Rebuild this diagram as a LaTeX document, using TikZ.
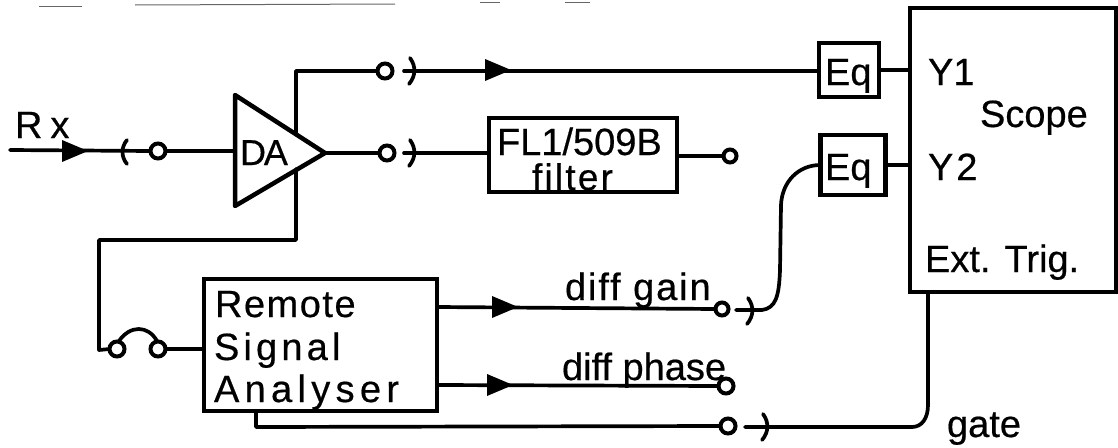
\documentclass[tikz,border=0pt]{standalone}
\usepackage{fontspec}
\setmainfont[FakeBold=0.5]{Liberation Sans}
\newcommand{\sz}[1]{\fontsize{#1}{#1}\selectfont}
\newcommand{\ls}[1]{\addfontfeature{LetterSpace=#1}}
\tikzset{
  wire/.style={line width=3.7pt,line cap=round,line join=round,black},
  boxline/.style={draw,line width=4.5pt,fill=white,inner sep=0pt,outer sep=0pt},
  jack/.style={circle,draw,line width=4pt,fill=white,inner sep=0pt,outer sep=0pt,minimum size=15pt},
  lbl/.style={anchor=base west,inner sep=0pt,outer sep=0pt,font=\sz{38}},
  plugr/.pic={\draw[line width=3.7pt,line cap=round] (-2,-13) .. controls (4,-5) and (4,5) .. (-3,13);},
  plugl/.pic={\draw[line width=3.7pt,line cap=round] (2,-12) .. controls (-4,-5) and (-4,5) .. (2,12);},
  flow/.pic={\fill (-10,-11) -- (16,0) -- (-10,11) -- cycle;},
  scan/.style={line width=1pt,black!60}
}
\begin{document}
\begin{tikzpicture}[x=1pt,y=-1pt]
\useasboundingbox (0,0) rectangle (1118,447);
% scan residue along the top edge
\draw[scan] (39,6) -- (82,6);
\draw[scan] (135,5) -- (395,4);
\draw[scan] (480,2) -- (500,2);
\draw[scan] (565,2) -- (590,2);
% boxes
\node[boxline,minimum width=188pt,minimum height=74pt] (filt) at (583,155) {};
\node[boxline,minimum width=60pt,minimum height=54pt] (eqa) at (849,70) {};
\node[boxline,minimum width=65pt,minimum height=60pt] (eqb) at (853,165) {};
\node[boxline,minimum width=206pt,minimum height=284pt] (scope) at (1013,150) {};
\node[boxline,minimum width=233pt,minimum height=132pt] (rsa) at (320.5,345) {};
% amplifier
\coordinate (datl) at (235,95);
\coordinate (datip) at (325,153);
\coordinate (dabl) at (235,206);
\coordinate (dain) at (235,151);
\coordinate (daup) at (296,132);
\coordinate (dadn) at (296,169);
\draw[line width=4.5pt,line join=round,line cap=round] (datl) -- (datip) -- (dabl) -- cycle;
% jacks
\node[jack] (rxj) at (158,151) {};
\node[jack] (oa) at (385,71) {};
\node[jack] (ob) at (387,153) {};
\node[jack,minimum size=13pt] (fo) at (730,156) {};
\node[jack] (la) at (117,349) {};
\node[jack] (lb) at (158,349) {};
\node[jack,minimum size=13pt] (dg) at (722,309) {};
\node[jack] (dp) at (726,386) {};
\node[jack] (gt) at (728,426) {};
% free ends and tails
\coordinate (rxs) at (10,150);
\coordinate (ta) at (404,71);
\coordinate (tb) at (404,153);
\coordinate (tg) at (736,310);
\coordinate (th) at (745,427);
% connectors
\draw[wire] (rxs) -- (rxj.west);
\draw[wire] (rxj.east) -- (dain);
\draw[wire] (daup) -- (296,71) -- (oa.west);
\draw[wire] (ta) -- (ta -| eqa.west);
\draw[wire] (datip) -- (ob.west);
\draw[wire] (tb) -- (tb -| filt.west);
\draw[wire] (fo.west -| filt.east) -- (fo.west);
\draw[wire] (eqa.east) -- (eqa.east -| scope.west);
\draw[wire] (eqb.east) -- (eqb.east -| scope.west);
\draw[wire] (dadn) -- (296,240) -- (99,240) -- (99,350) -- (la.west);
\draw[wire] (119,341) .. controls (130,325) and (148,325) .. (157,341);
\draw[wire] (lb.east) -- (lb.east -| rsa.west);
\draw[wire] (rsa.east |- 0,307) -- (dg.west);
\draw[wire] (rsa.east |- 0,385) -- (dp.west);
\draw[wire] (256,0 |- rsa.south) -- (256,427) -- (gt.west);
\draw[wire] (tg) -- (762,310) .. controls (776,308) and (779,296) .. (780,270) -- (781,205) .. controls (782,182) and (798,165) .. (eqb.west);
\draw[wire] (th) -- (912,427) .. controls (922,427) and (928,418) .. (928,405) -- (928,292);
% arrowheads and plug marks
\pic at (72,151) {flow};
\pic at (495,70) {flow};
\pic at (502,307) {flow};
\pic at (497,385) {flow};
\pic at (125,152) {plugl};
\pic at (412,71) {plugr};
\pic at (412,153) {plugr};
\pic at (750,311) {plugr};
\pic at (765,427) {plugr};
% labels
\node[lbl] (trx) at (15,138) {R\hspace{8pt}x};
\node[lbl,font=\sz{36}] (tda) at (240,165) {\ls{-6}DA};
\node[lbl] (tfl) at (497,155) {FL1/509B};
\node[lbl,font=\sz{37}] (tfi) at (532,190) {\ls{6}filter};
\node[lbl] (te1) at (825,85) {Eq};
\node[lbl] (te2) at (825,180) {Eq};
\node[lbl] (ty1) at (928,85) {Y1};
\node[lbl] (ty2) at (928,180) {Y\hspace{3pt}2};
\node[lbl] (tsc) at (980,127) {Scope};
\node[lbl] (tex) at (925,272) {Ext. Trig.};
\node[lbl] (tre) at (215,317) {\ls{4}Remote};
\node[lbl] (tsi) at (214,360) {\ls{11}Signal};
\node[lbl] (tan) at (214,402) {\ls{14}Analyser};
\node[lbl] (tdg) at (565,300) {\ls{5}diff gain};
\node[lbl] (tdp) at (562,380) {diff phase};
\node[lbl] (tgt) at (947,437) {gate};
\end{tikzpicture}
\end{document}
